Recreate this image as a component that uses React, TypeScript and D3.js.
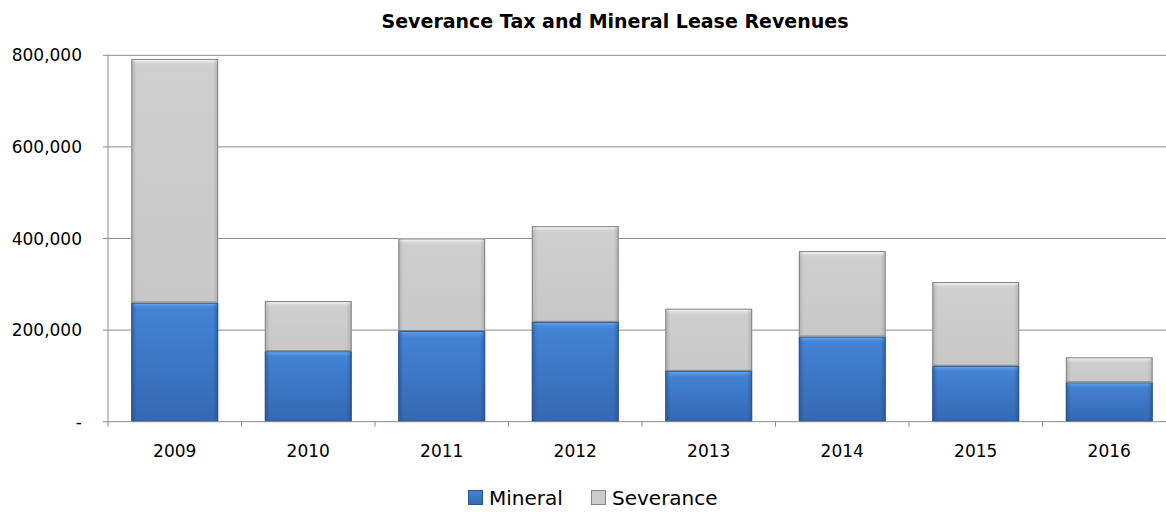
import React from "react";
import * as d3 from "d3";

const years = ["2009", "2010", "2011", "2012", "2013", "2014", "2015", "2016"];
const mineral = [260000, 154000, 198000, 218000, 111000, 186000, 122000, 86000];
const severance = [532000, 109500, 202000, 209000, 135700, 186700, 183000, 54600];
const yTicks = [0, 200000, 400000, 600000, 800000];
const seriesNames = ["Mineral", "Severance"];

const W = 1166, H = 512;
const left = 108, right = 1176, top = 55.3, bottom = 421.7;
const FONT = "'DejaVu Sans', Verdana, sans-serif";

export default function App() {
  const x = d3.scaleBand<string>().domain(years).range([left, right]).paddingInner(0.35).paddingOuter(0.175);
  const xb = d3.scaleBand<string>().domain(years).range([left, right]);
  const y = d3.scaleLinear().domain([0, 800000]).range([bottom, top]);
  const fmt = (v: number) => (v === 0 ? "-" : d3.format(",")(v));

  const stackData = years.map((yr, i) => ({ yr, Mineral: mineral[i], Severance: severance[i] }));
  const stacked = d3.stack<any>().keys(seriesNames)(stackData);

  const styles: Record<string, any> = {
    Mineral: { grad: "url(#gBlue)", stroke: "#2b5591", hi: "url(#hBlue)", side: "url(#sBlue)" },
    Severance: { grad: "url(#gGray)", stroke: "#858585", hi: "url(#hGray)", side: "url(#sGray)" },
  };

  return (
    <svg width={W} height={H} style={{ position: "absolute", left: 0, top: 0, background: "#fff" }} fontFamily={FONT}>
      <defs>
        <linearGradient id="gBlue" x1="0" y1="0" x2="0" y2="1">
          <stop offset="0" stopColor="#4485d6" />
          <stop offset="1" stopColor="#3568b2" />
        </linearGradient>
        <linearGradient id="hBlue" x1="0" y1="0" x2="0" y2="1">
          <stop offset="0" stopColor="#6fb2f5" />
          <stop offset="1" stopColor="#4485d6" stopOpacity="0" />
        </linearGradient>
        <linearGradient id="sBlue" x1="0" y1="0" x2="1" y2="0">
          <stop offset="0" stopColor="#1d3f75" stopOpacity="0.45" />
          <stop offset="0.06" stopColor="#1d3f75" stopOpacity="0" />
          <stop offset="0.94" stopColor="#1d3f75" stopOpacity="0" />
          <stop offset="1" stopColor="#1d3f75" stopOpacity="0.45" />
        </linearGradient>
        <linearGradient id="gGray" x1="0" y1="0" x2="0" y2="1">
          <stop offset="0" stopColor="#cfcfcf" />
          <stop offset="1" stopColor="#c8c8c8" />
        </linearGradient>
        <linearGradient id="hGray" x1="0" y1="0" x2="0" y2="1">
          <stop offset="0" stopColor="#ffffff" />
          <stop offset="1" stopColor="#cfcfcf" stopOpacity="0" />
        </linearGradient>
        <linearGradient id="sGray" x1="0" y1="0" x2="1" y2="0">
          <stop offset="0" stopColor="#808080" stopOpacity="0.35" />
          <stop offset="0.06" stopColor="#808080" stopOpacity="0" />
          <stop offset="0.94" stopColor="#808080" stopOpacity="0" />
          <stop offset="1" stopColor="#808080" stopOpacity="0.35" />
        </linearGradient>
      </defs>

      <text x={615} y={28} textAnchor="middle" fontSize={19} fontWeight="bold" fill="#000">
        Severance Tax and Mineral Lease Revenues
      </text>

      {yTicks.map((t) => (
        <g key={t}>
          {t > 0 && <line x1={left - 5} x2={right} y1={y(t)} y2={y(t)} stroke="#8c8c8c" strokeWidth={1} />}
          <text x={82} y={y(t) + 6} textAnchor="end" fontSize={17} fill="#000">
            {fmt(t)}
          </text>
        </g>
      ))}

      {stacked.map((s) => (
        <g key={s.key}>
          {s.map((d: any, i: number) => {
            const x0 = x(years[i])!;
            const bw = x.bandwidth();
            const y1 = y(d[1]);
            const y0 = y(d[0]);
            const h = y0 - y1;
            const st = styles[s.key];
            return (
              <g key={i}>
                <rect x={x0} y={y1} width={bw} height={h} fill={st.grad} />
                <rect x={x0} y={y1} width={bw} height={Math.min(7, h)} fill={st.hi} />
                <rect x={x0} y={y1} width={bw} height={h} fill={st.side} />
                <rect x={x0 + 0.5} y={y1 + 0.5} width={bw - 1} height={h - 1} fill="none" stroke={st.stroke} strokeWidth={1} />
              </g>
            );
          })}
        </g>
      ))}

      <line x1={left} x2={left} y1={top} y2={bottom} stroke="#8c8c8c" />
      <line x1={left - 5} x2={right} y1={bottom} y2={bottom} stroke="#8c8c8c" />
      {years.map((yr) => (
        <line key={yr} x1={xb(yr)!} x2={xb(yr)!} y1={bottom} y2={bottom + 5} stroke="#8c8c8c" />
      ))}
      {years.map((yr) => (
        <text key={yr} x={xb(yr)! + xb.bandwidth() / 2} y={457} textAnchor="middle" fontSize={17} fill="#000">
          {yr}
        </text>
      ))}

      <g>
        <rect x={468.5} y={490.5} width={14} height={14} fill="url(#gBlue)" stroke="#2b5591" />
        <text x={489} y={505} fontSize={20} fill="#000">{seriesNames[0]}</text>
        <rect x={591.5} y={490.5} width={14} height={14} fill="#cccccc" stroke="#858585" />
        <text x={612} y={505} fontSize={20} fill="#000">{seriesNames[1]}</text>
      </g>
    </svg>
  );
}
